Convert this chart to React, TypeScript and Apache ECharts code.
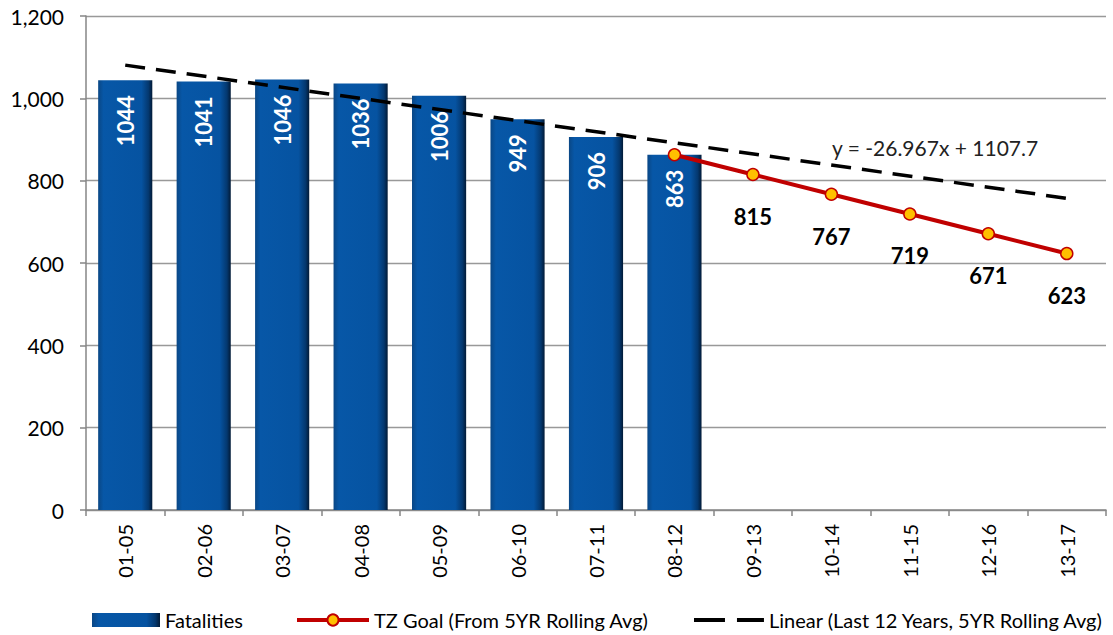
import React, { useEffect, useRef } from "react";
import * as echarts from "echarts";

const categories = ["01-05", "02-06", "03-07", "04-08", "05-09", "06-10", "07-11", "08-12", "09-13", "10-14", "11-15", "12-16", "13-17"];
const fatalities = [1044, 1041, 1046, 1036, 1006, 949, 906, 863, null, null, null, null, null];
const tzGoal = [null, null, null, null, null, null, null, 863, 815, 767, 719, 671, 623];
const trendLine = [1080.7, null, null, null, null, null, null, null, null, null, null, null, 757.1];
const yTicks = [0, 200, 400, 600, 800, 1000, 1200];
const equationText = "y = -26.967x + 1107.7";

const FONT = "Lato, 'Open Sans', sans-serif";

export default function App() {
  const ref = useRef<HTMLDivElement>(null);
  useEffect(() => {
    if (!ref.current) return;
    const chart = echarts.init(ref.current, undefined, { renderer: "svg" });
    const barGrad = new echarts.graphic.LinearGradient(0, 0, 1, 0, [
      { offset: 0, color: "#0a4785" },
      { offset: 0.1, color: "#0757a7" },
      { offset: 0.8, color: "#0653a1" },
      { offset: 0.93, color: "#04386f" },
      { offset: 1, color: "#021a36" },
    ]);
    const legendText = { fontSize: 20, color: "#000", fontFamily: FONT };
    chart.setOption({
      animation: false,
      textStyle: { fontFamily: FONT },
      grid: { left: 86, right: 7, top: 16, bottom: 125, containLabel: false },
      xAxis: {
        type: "category",
        data: categories,
        boundaryGap: true,
        axisLine: { lineStyle: { color: "#868686", width: 1.5 } },
        axisTick: { show: true, alignWithLabel: false, length: 6, lineStyle: { color: "#868686", width: 1.5 } },
        axisLabel: { rotate: 90, margin: 14, fontSize: 20, color: "#000", fontFamily: FONT },
      },
      yAxis: {
        type: "value",
        min: yTicks[0],
        max: yTicks[yTicks.length - 1],
        interval: 200,
        axisLine: { show: true, lineStyle: { color: "#868686", width: 1.5 } },
        axisTick: { show: true, length: 6, lineStyle: { color: "#868686", width: 1.5 } },
        splitLine: { show: true, lineStyle: { color: "#999999", width: 1.3 } },
        axisLabel: {
          fontSize: 21,
          color: "#000",
          margin: 22,
          fontFamily: FONT,
          formatter: (v: number) => v.toLocaleString("en-US"),
        },
      },
      legend: [
        {
          left: 87,
          top: 605,
          itemWidth: 68,
          itemHeight: 14,
          itemGap: 10,
          textStyle: legendText,
          data: [{ name: "Fatalities", icon: "rect" }],
        },
        {
          left: 290,
          top: 605,
          itemWidth: 72,
          itemHeight: 14,
          lineStyle: { width: 4, color: "#c00000" },
          textStyle: legendText,
          data: ["TZ Goal (From 5YR Rolling Avg)"],
        },
        {
          left: 689,
          top: 605,
          itemWidth: 70,
          itemHeight: 14,
          textStyle: legendText,
          data: [
            {
              name: "Linear (Last 12 Years, 5YR Rolling Avg)",
              icon: "path://M0,5H31V9H0Z M43,5H70V9H43Z M0,0H0.01V0.01H0Z M0,14H0.01V14.01H0Z",
            },
          ],
        },
      ],
      series: [
        {
          name: "Fatalities",
          type: "bar",
          data: fatalities,
          barCategoryGap: "31%",
          itemStyle: { color: barGrad },
          label: {
            show: true,
            position: "insideTop",
            distance: 15,
            rotate: 90,
            align: "right",
            verticalAlign: "middle",
            color: "#fff",
            fontWeight: "bold",
            fontSize: 22,
            fontFamily: FONT,
          },
          z: 2,
        },
        {
          name: "Linear (Last 12 Years, 5YR Rolling Avg)",
          type: "line",
          data: trendLine,
          connectNulls: true,
          symbol: "none",
          lineStyle: { color: "#000", width: 3.5, type: [20, 11] },
          itemStyle: { color: "#000" },
          z: 3,
        },
        {
          name: "TZ Goal (From 5YR Rolling Avg)",
          type: "line",
          data: tzGoal,
          symbol: "circle",
          symbolSize: 12,
          lineStyle: { color: "#c00000", width: 4 },
          itemStyle: { color: "#ffc000", borderColor: "#c00000", borderWidth: 1.5 },
          label: {
            show: true,
            position: "bottom",
            distance: 24,
            color: "#000",
            fontWeight: "bold",
            fontSize: 22,
            fontFamily: FONT,
            formatter: (p: any) => (p.dataIndex === 7 ? "" : String(p.value)),
          },
          z: 4,
        },
      ],
      graphic: [
        {
          type: "text",
          left: 832,
          top: 137,
          style: { text: equationText, fontSize: 21, fill: "#222", fontFamily: FONT },
          z: 10,
        },
      ],
    });
    return () => chart.dispose();
  }, []);
  return <div ref={ref} style={{ position: "absolute", left: 0, top: 0, width: 1113, height: 635 }} />;
}
